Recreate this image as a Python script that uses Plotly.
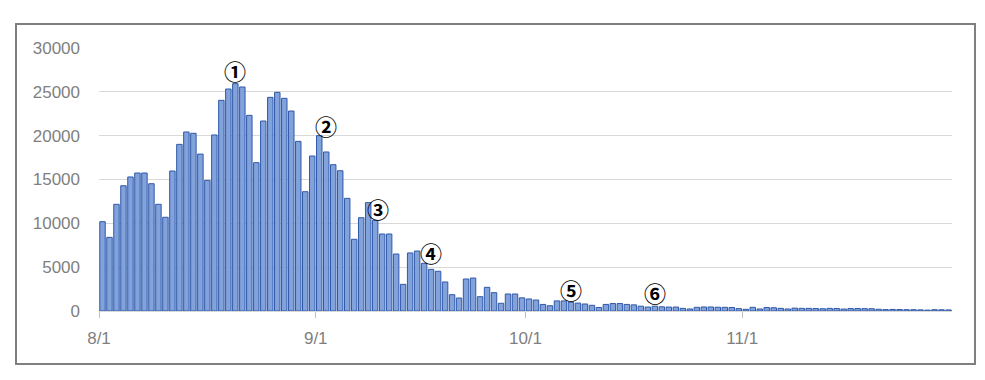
import pandas as pd
import plotly.graph_objects as go

# Daily values 8/1 .. 11/30
start_date = "2021-08-01"
end_date = "2021-11-30"
values = [
    10190, 8400, 12170, 14290, 15290, 15740, 15740, 14520, 12170, 10690,
    15970, 19010, 20420, 20270, 17900, 14900, 20080, 24030, 25320, 25930,
    25550, 22320, 16920, 21670, 24370, 24940, 24260, 22810, 19350, 13610,
    17680, 20000, 18140, 16690, 16000, 12850, 8180, 10640, 12360, 10340,
    8780, 8780, 6500, 3040, 6620, 6840, 5440, 4750, 4530, 3310,
    1860, 1480, 3650, 3760, 1630, 2700, 2090, 880, 1940, 1940,
    1500, 1370, 1250, 750, 600, 1150, 1150, 1000, 900, 800,
    650, 400, 750, 850, 850, 750, 700, 550, 450, 550,
    480, 450, 450, 300, 230, 420, 460, 460, 430, 420,
    400, 270, 190, 420, 230, 400, 370, 300, 230, 330,
    300, 300, 290, 260, 300, 290, 220, 280, 280, 270,
    260, 200, 160, 180, 170, 150, 150, 130, 100, 150,
    140, 120,
]
dates = pd.date_range(start_date, end_date, freq="D")

tick_dates = ["2021-08-01", "2021-09-01", "2021-10-01", "2021-11-01"]
tick_labels = ["8/1", "9/1", "10/1", "11/1"]
y_ticks = [0, 5000, 10000, 15000, 20000, 25000, 30000]
y_tick_labels = ["0", "5000", "10000", "15000", "20000", "25000", "30000"]

# circled markers: label, date, height
mark_labels = ["①", "②", "③", "④", "⑤", "⑥"]
mark_dates = ["2021-08-20 12:00", "2021-09-02 12:00", "2021-09-09 20:00",
              "2021-09-17 12:00", "2021-10-07 12:00", "2021-10-19 12:00"]
mark_y = [27500, 21200, 11750, 6730, 2510, 2170]

fig = go.Figure()
fig.add_trace(go.Bar(
    x=dates, y=values,
    xperiod=86400000, xperiodalignment="middle",
    marker=dict(color="#82a2dc", line=dict(color="#2f58a8", width=1)),
    hoverinfo="x+y",
))

for lab, d, yv in zip(mark_labels, mark_dates, mark_y):
    fig.add_annotation(x=d, y=yv, text="<b>" + lab + "</b>", showarrow=False,
                       font=dict(family="Noto Sans CJK JP", size=22, color="#000000"))

# outer frame (plot area is 853 x 263 px)
fig.add_shape(type="rect", xref="paper", yref="paper",
              x0=(16 - 99) / 853, x1=(975 - 99) / 853,
              y0=(311 - 364) / 263, y1=(311 - 24) / 263,
              line=dict(color="#7f7f7f", width=2), fillcolor="rgba(0,0,0,0)",
              layer="below")

fig.update_layout(
    width=969, height=364,
    margin=dict(l=91, r=25, t=40, b=61, autoexpand=False),
    paper_bgcolor="white", plot_bgcolor="white",
    bargap=0.22,
    showlegend=False,
    font=dict(family="Liberation Sans", color="#7f7f7f"),
)
fig.update_xaxes(
    type="date", automargin=False,
    range=["2021-08-01", "2021-12-01"],
    tickvals=tick_dates, ticktext=tick_labels,
    ticks="outside", ticklen=6, tickcolor="#bfbfbf", tickwidth=1,
    showline=True, linecolor="#d9d9d9", linewidth=1,
    showgrid=False, zeroline=False,
    tickfont=dict(size=17, color="#7f7f7f"),
    ticklabelstandoff=6,
)
fig.update_yaxes(
    automargin=False,
    range=[0, 30000],
    tickvals=y_ticks, ticktext=y_tick_labels,
    showgrid=True, gridcolor="#d9d9d9", gridwidth=1,
    zeroline=False, showline=False,
    tickfont=dict(size=17, color="#7f7f7f"),
    ticklabelstandoff=18,
)

fig.write_html("out.html")
